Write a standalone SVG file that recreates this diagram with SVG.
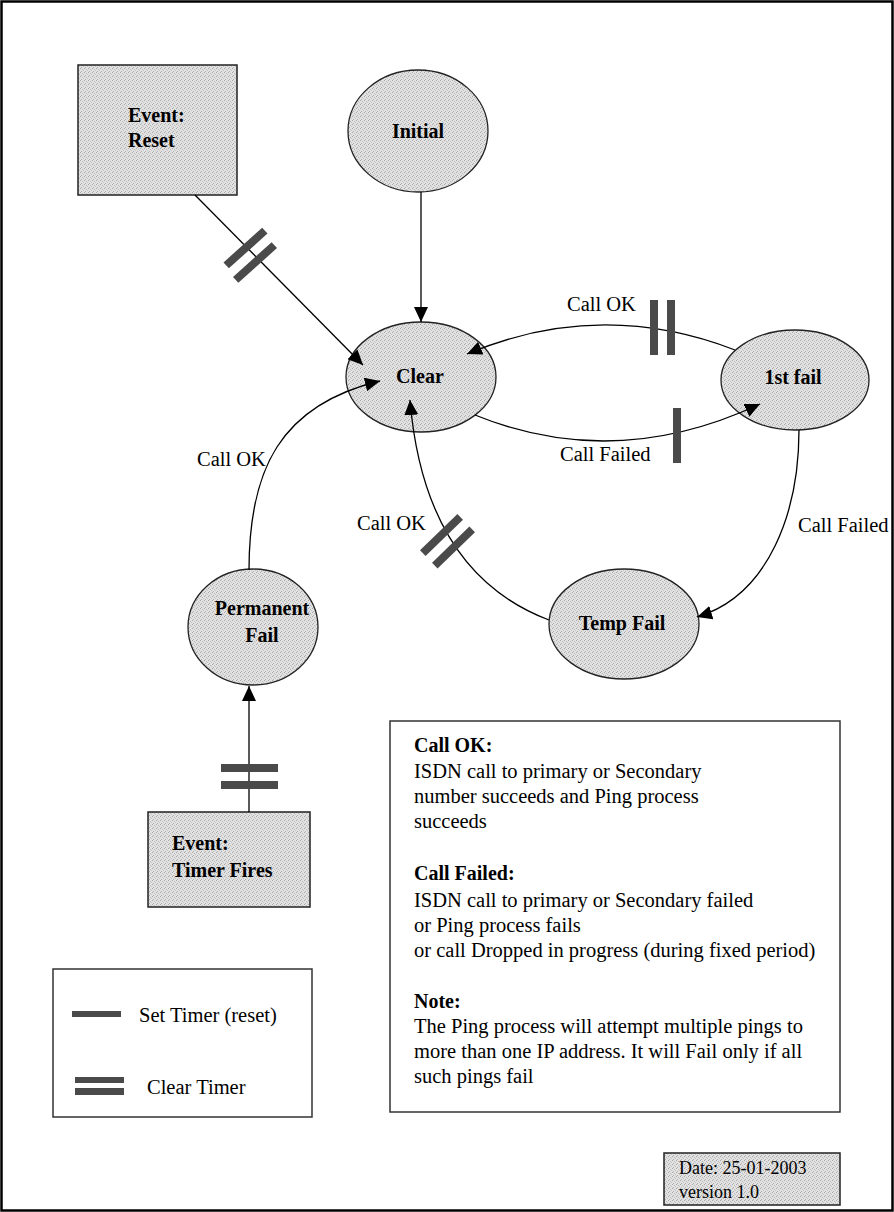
<svg xmlns="http://www.w3.org/2000/svg" width="894" height="1212" viewBox="0 0 894 1212">
<style>
.reg{font-family:"Liberation Serif","Times New Roman",serif;font-size:20.5px;fill:#000}
.bold{font-family:"Liberation Serif","Times New Roman",serif;font-size:20px;font-weight:bold;fill:#000}
.node{fill:url(#stip);stroke:#222;stroke-width:1.3}
.box{fill:url(#stip);stroke:#222;stroke-width:1.5}
.edge{fill:none;stroke:#000;stroke-width:1.3}
.bar{fill:#4a4a4a}
</style>
<defs>
<pattern id="stip" width="4" height="4" patternUnits="userSpaceOnUse">
<rect width="4" height="4" fill="#e2e2e2"/>
<rect x="0" y="0" width="1" height="1" fill="#a8a8a8"/>
<rect x="2" y="1" width="1" height="1" fill="#b8b8b8"/>
<rect x="1" y="3" width="1" height="1" fill="#b0b0b0"/>
<rect x="3" y="2" width="1" height="1" fill="#c4c4c4"/>
</pattern>
<marker id="arr" markerUnits="userSpaceOnUse" markerWidth="16" markerHeight="14" refX="15" refY="7" orient="auto">
<path d="M0,0 L15,7 L0,14 Z" fill="#000"/>
</marker>
</defs>
<rect x="1.5" y="1.5" width="891" height="1209" fill="#fff" stroke="#000" stroke-width="2.5"/>

<g id="reset">
<rect class="box" x="78" y="65" width="159" height="130"/>
<text class="bold" x="128" y="122">Event:</text>
<text class="bold" x="128" y="147">Reset</text>
</g>
<g id="initial">
<ellipse class="node" cx="418" cy="131" rx="70" ry="61"/>
<text class="bold" x="418" y="138" text-anchor="middle">Initial</text>
</g>
<g id="clear">
<ellipse class="node" cx="421" cy="377" rx="75" ry="55" stroke-width="3"/>
<text class="bold" x="420" y="383" text-anchor="middle">Clear</text>
</g>
<g id="firstfail">
<ellipse class="node" cx="795" cy="380" rx="74" ry="50"/>
<text class="bold" x="793" y="384" text-anchor="middle">1st fail</text>
</g>
<g id="tempfail">
<ellipse class="node" cx="624" cy="624" rx="75" ry="55"/>
<text class="bold" x="622" y="630" text-anchor="middle">Temp Fail</text>
</g>
<g id="permfail">
<ellipse class="node" cx="253" cy="627" rx="65" ry="58"/>
<text class="bold" x="262" y="615" text-anchor="middle">Permanent</text>
<text class="bold" x="262" y="642" text-anchor="middle">Fail</text>
</g>
<g id="timerfires">
<rect class="box" x="148" y="812" width="162" height="95"/>
<text class="bold" x="172" y="850">Event:</text>
<text class="bold" x="172" y="877">Timer Fires</text>
</g>

<g id="connectors">
<path class="edge" d="M195,195 L363,365" marker-end="url(#arr)"/>
<path class="edge" d="M421,192 L421,322" marker-end="url(#arr)"/>
<path class="edge" d="M735,350 Q600,298 467,354" marker-end="url(#arr)"/>
<path class="edge" d="M475,415 Q615,472 760,404" marker-end="url(#arr)"/>
<path class="edge" d="M799,430 C799,510 770,595 697,617" marker-end="url(#arr)"/>
<path class="edge" d="M549,620 C470,590 420,520 410,400" marker-end="url(#arr)"/>
<path class="edge" d="M249,570 C249,470 280,405 380,381" marker-end="url(#arr)"/>
<path class="edge" d="M249,812 L249,686" marker-end="url(#arr)"/>
<rect class="bar" x="650" y="300" width="8" height="55"/>
<rect class="bar" x="667" y="300" width="8" height="55"/>
<rect class="bar" x="673" y="408" width="8" height="55"/>
<rect class="bar" x="221" y="764" width="57" height="8"/>
<rect class="bar" x="221" y="781" width="57" height="8"/>
<rect class="bar" x="-26" y="-4" width="52" height="8" transform="translate(245.5,248) rotate(-42)"/>
<rect class="bar" x="-26" y="-4" width="52" height="8" transform="translate(255,262.5) rotate(-42)"/>
<rect class="bar" x="-26" y="-4" width="52" height="8" transform="translate(441.5,535) rotate(-44)"/>
<rect class="bar" x="-26" y="-4" width="52" height="8" transform="translate(453.5,547.5) rotate(-44)"/>
<text class="reg" x="567" y="311">Call OK</text>
<text class="reg" x="560" y="461">Call Failed</text>
<text class="reg" x="798" y="532">Call Failed</text>
<text class="reg" x="357" y="530">Call OK</text>
<text class="reg" x="197" y="466">Call OK</text>
</g>

<g id="notes">
<rect x="390" y="721" width="450" height="391" fill="#fff" stroke="#333" stroke-width="1.5"/>
<text class="bold" x="414" y="752">Call OK:</text>
<text class="reg" x="414" y="778">ISDN call to primary or Secondary</text>
<text class="reg" x="414" y="803">number succeeds and Ping process</text>
<text class="reg" x="414" y="828">succeeds</text>
<text class="bold" x="414" y="880">Call Failed:</text>
<text class="reg" x="414" y="907">ISDN call to primary or Secondary failed</text>
<text class="reg" x="414" y="932">or Ping process fails</text>
<text class="reg" x="414" y="957">or call Dropped in progress (during fixed period)</text>
<text class="bold" x="414" y="1008">Note:</text>
<text class="reg" x="414" y="1033">The Ping process will attempt multiple pings to</text>
<text class="reg" x="414" y="1058">more than one IP address. It will Fail only if all</text>
<text class="reg" x="414" y="1083">such pings fail</text>
</g>

<g id="legend">
<rect x="53" y="969" width="259" height="148" fill="#fff" stroke="#333" stroke-width="1.5"/>
<rect class="bar" x="72" y="1011" width="49" height="6"/>
<text class="reg" x="139" y="1022">Set Timer (reset)</text>
<rect class="bar" x="75" y="1077" width="49" height="6"/>
<rect class="bar" x="75" y="1088" width="49" height="7"/>
<text class="reg" x="147" y="1094">Clear Timer</text>
</g>

<g id="date">
<rect class="box" x="664" y="1153" width="176" height="52"/>
<text class="reg" x="679" y="1174" style="font-size:18px">Date: 25-01-2003</text>
<text class="reg" x="679" y="1198" style="font-size:18px">version 1.0</text>
</g>
</svg>
